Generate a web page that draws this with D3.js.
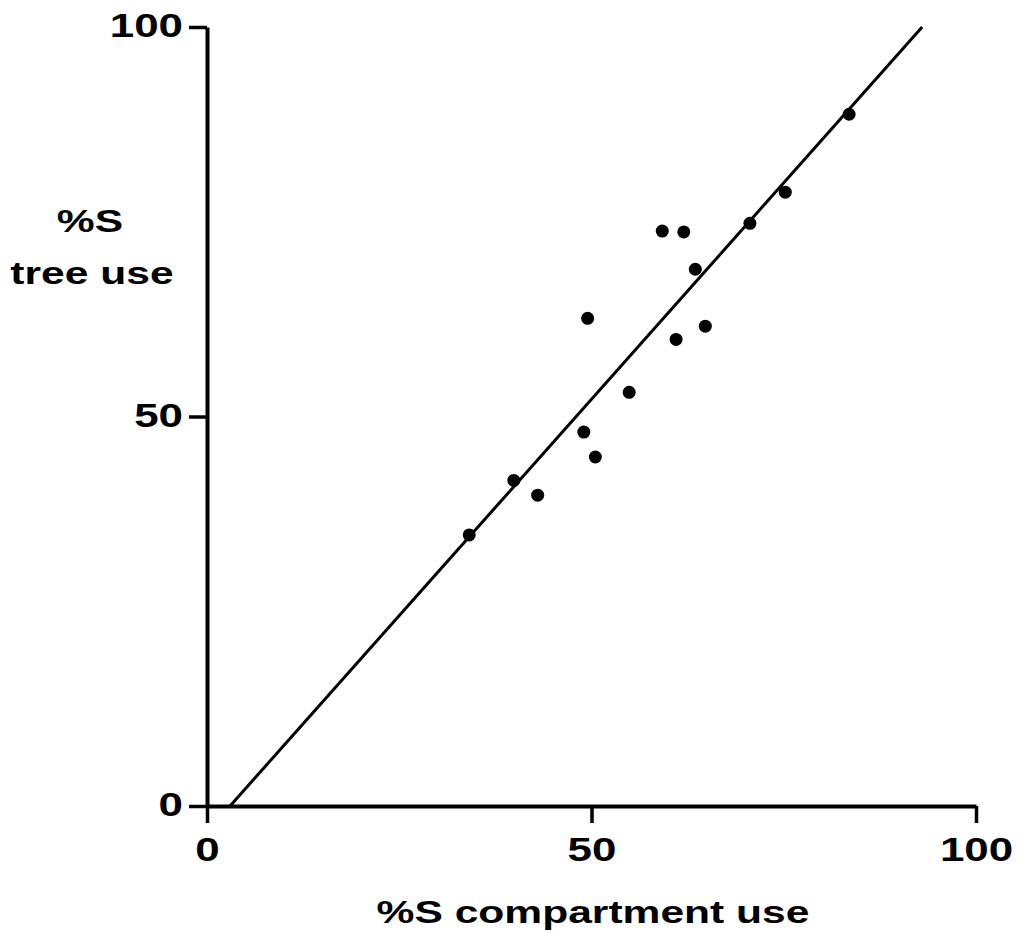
<!DOCTYPE html>
<html lang="en">
<head>
  <meta charset="UTF-8">
  <title>%S tree use vs compartment use</title>
  <script src="https://d3js.org/d3.v7.min.js"></script>
  <style>
    body {
      margin: 0;
      background: #fff;
    }
    svg text {
      font-family: 'Liberation Sans', Arial, sans-serif;
      font-weight: bold;
      fill: #000;
    }
  </style>
</head>
<body>
  <svg width="1024" height="933"></svg>
  <script>
    // %S compartment use (x) and %S tree use (y)
    const compartmentUse = [34.1, 39.9, 43.0, 49.0, 50.5, 49.5, 54.9, 59.2, 62.0, 63.5, 61.0, 64.8, 70.6, 75.2, 83.5];
    const treeUse        = [34.8, 41.8, 39.9, 48.0, 44.8, 62.6, 53.1, 73.8, 73.7, 68.9, 59.9, 61.6, 74.8, 78.8, 88.8];
    // fitted line end points (x where y=0, x where y=100)
    const fitX = [3.0, 93.0];
    const fitY = [0, 100];
    const ticks = [0, 50, 100];

    const stretch = 1.33; // the original lettering is wide, stretch glyphs sideways

    function widen(sel) {
      sel.each(function() {
        const len = this.getComputedTextLength();
        d3.select(this)
          .attr("textLength", len * stretch)
          .attr("lengthAdjust", "spacingAndGlyphs");
      });
    }

    const svg = d3.select("svg");
    const x = d3.scaleLinear().domain([0, 100]).range([207, 976]);
    const y = d3.scaleLinear().domain([0, 100]).range([806, 27]);

    // x axis
    const xAxis = svg.append("g")
      .attr("transform", "translate(0," + y(0) + ")")
      .call(d3.axisBottom(x).tickValues(ticks).tickSize(17).tickSizeOuter(0).tickPadding(15));
    // y axis
    const yAxis = svg.append("g")
      .attr("transform", "translate(" + x(0) + ",0)")
      .call(d3.axisLeft(y).tickValues(ticks).tickSize(18).tickSizeOuter(0).tickPadding(6));

    [xAxis, yAxis].forEach(g => {
      g.select(".domain").attr("stroke", "#000").attr("stroke-width", 4);
      g.selectAll(".tick line").attr("stroke", "#000").attr("stroke-width", 3.5);
      g.selectAll(".tick text")
        .attr("fill", "#000")
        .attr("font-size", null)
        .style("font-size", "33px")
        .call(widen);
    });
    xAxis.selectAll(".tick text").attr("dy", "0.71em");
    yAxis.selectAll(".tick text").attr("dy", "0.3em");

    // regression line
    svg.append("line")
      .attr("x1", x(fitX[0])).attr("y1", y(fitY[0]))
      .attr("x2", x(fitX[1])).attr("y2", y(fitY[1]))
      .attr("stroke", "#000")
      .attr("stroke-width", 3);

    // points
    svg.selectAll(".dot")
      .data(compartmentUse)
      .enter().append("circle")
      .attr("class", "dot")
      .attr("cx", d => x(d))
      .attr("cy", (d, i) => y(treeUse[i]))
      .attr("r", 6.5)
      .attr("fill", "#000");

    // axis titles
    svg.append("text")
      .attr("x", 593).attr("y", 923)
      .attr("text-anchor", "middle")
      .style("font-size", "32px")
      .text("%S compartment use")
      .call(widen);

    svg.append("text")
      .attr("x", 90).attr("y", 232)
      .attr("text-anchor", "middle")
      .style("font-size", "32px")
      .text("%S")
      .call(widen);
    svg.append("text")
      .attr("x", 92).attr("y", 284)
      .attr("text-anchor", "middle")
      .style("font-size", "32px")
      .text("tree use")
      .call(widen);
  </script>
</body>
</html>
